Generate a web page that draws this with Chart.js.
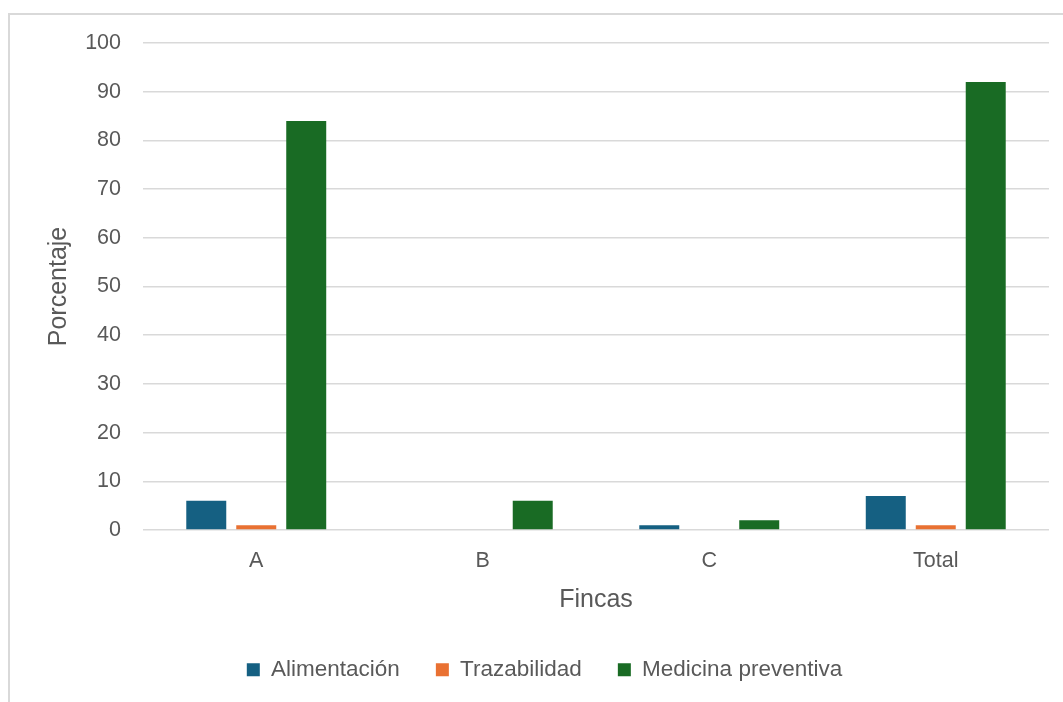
<!DOCTYPE html>
<html>
<head>
<meta charset="utf-8">
<script src="https://cdn.jsdelivr.net/npm/chart.js@4"></script>
<style>
  html, body { margin: 0; padding: 0; background: #fff; }
  #frame { position: absolute; left: 8px; top: 13px; width: 1100px; height: 750px;
           border-left: 2px solid #d9d9d9; border-top: 2px solid #d9d9d9; }
  #wrap { position: absolute; left: 0; top: 0; width: 1063px; height: 702px; }
</style>
</head>
<body>
<div id="frame"></div>
<div id="wrap"><canvas id="chart"></canvas></div>
<script>
// datos del gráfico
const categorias = ['A', 'B', 'C', 'Total'];
const alimentacion = [6, 0, 1, 7];
const trazabilidad = [1, 0, 0, 1];
const medicinaPreventiva = [84, 6, 2, 92];
const yTicks = [0, 10, 20, 30, 40, 50, 60, 70, 80, 90, 100];

const textColor = '#595959';
const gridColor = '#d9d9d9';
const fontFam = '"Liberation Sans", Arial, sans-serif';

new Chart(document.getElementById('chart'), {
  type: 'bar',
  data: {
    labels: categorias,
    datasets: [
      { label: 'Alimentación', data: alimentacion, backgroundColor: '#156082' },
      { label: 'Trazabilidad', data: trazabilidad, backgroundColor: '#E97132' },
      { label: 'Medicina preventiva', data: medicinaPreventiva, backgroundColor: '#196B24' }
    ]
  },
  options: {
    responsive: true,
    maintainAspectRatio: false,
    animation: false,
    datasets: { bar: { categoryPercentage: 0.662, barPercentage: 0.8 } },
    layout: { padding: { left: 40, right: 14, top: 43, bottom: 11 } },
    plugins: {
      tooltip: { enabled: false },
      legend: {
        position: 'bottom',
        labels: {
          color: textColor,
          font: { family: fontFam, size: 22.5 },
          boxWidth: 13,
          boxHeight: 13,
          padding: 36
        }
      }
    },
    scales: {
      x: {
        grid: { display: false, drawTicks: false },
        border: { display: false },
        ticks: { color: textColor, font: { family: fontFam, size: 21.5 }, padding: 18 },
        title: { display: true, text: 'Fincas', color: textColor,
                 font: { family: fontFam, size: 25 }, padding: { top: 4, bottom: 7.5 } },
        afterFit: function (axis) { axis.height = 92.5; }
      },
      y: {
        min: 0,
        max: 100,
        afterBuildTicks: function (axis) { axis.ticks = yTicks.map(function (v) { return { value: v }; }); },
        grid: { color: gridColor, lineWidth: 1.5, drawTicks: false },
        border: { display: false },
        ticks: { color: textColor, font: { family: fontFam, size: 21.5 }, padding: 22 },
        title: { display: true, text: 'Porcentaje', color: textColor,
                 font: { family: fontFam, size: 25 }, padding: { top: 4, bottom: 4 } },
        afterFit: function (axis) { axis.width = 103; }
      }
    }
  }
});
</script>
</body>
</html>
